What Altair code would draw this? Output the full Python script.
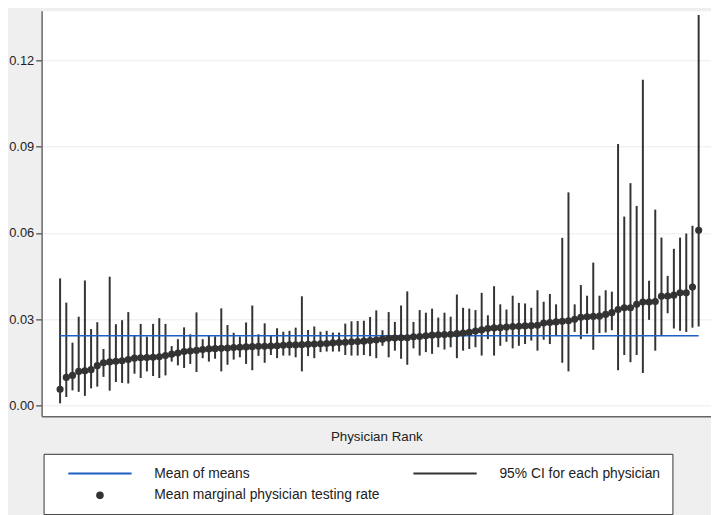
import altair as alt
import pandas as pd

# ---------------- data ----------------
ranks = list(range(1, 105))

means = [
    0.0057, 0.0098, 0.0105, 0.0119, 0.0121, 0.0125, 0.0139, 0.0149, 0.0152, 0.0154,
    0.0156, 0.0160, 0.0165, 0.0166, 0.0167, 0.0168, 0.0170, 0.0174, 0.0179, 0.0183,
    0.0188, 0.0190, 0.0192, 0.0195, 0.0197, 0.0198, 0.0199, 0.0200, 0.0202, 0.0203,
    0.0204, 0.0205, 0.0206, 0.0206, 0.0207, 0.0208, 0.0210, 0.0211, 0.0211, 0.0212,
    0.0213, 0.0214, 0.0215, 0.0216, 0.0218, 0.0219, 0.0220, 0.0222, 0.0223, 0.0224,
    0.0226, 0.0228, 0.0231, 0.0234, 0.0235, 0.0236, 0.0236, 0.0239, 0.0240, 0.0243,
    0.0245, 0.0246, 0.0247, 0.0248, 0.0250, 0.0252, 0.0255, 0.0259, 0.0263, 0.0268,
    0.0270, 0.0271, 0.0273, 0.0275, 0.0276, 0.0277, 0.0278, 0.0279, 0.0287, 0.0289,
    0.0291, 0.0293, 0.0295, 0.0300, 0.0307, 0.0309, 0.0310, 0.0311, 0.0317, 0.0323,
    0.0334, 0.0340, 0.0340, 0.0352, 0.0360, 0.0360, 0.0362, 0.0380, 0.0381, 0.0384,
    0.0392, 0.0392, 0.0412, 0.0609,
]

lows = [
    0.0008, 0.0030, 0.0053, 0.0048, 0.0034, 0.0060, 0.0066, 0.0100, 0.0052, 0.0082,
    0.0079, 0.0077, 0.0111, 0.0096, 0.0119, 0.0103, 0.0096, 0.0105, 0.0153, 0.0140,
    0.0131, 0.0145, 0.0117, 0.0165, 0.0153, 0.0163, 0.0119, 0.0142, 0.0160, 0.0168,
    0.0145, 0.0123, 0.0173, 0.0149, 0.0176, 0.0165, 0.0174, 0.0174, 0.0168, 0.0119,
    0.0172, 0.0165, 0.0186, 0.0188, 0.0188, 0.0188, 0.0176, 0.0174, 0.0174, 0.0176,
    0.0172, 0.0165, 0.0208, 0.0168, 0.0191, 0.0163, 0.0142, 0.0199, 0.0174, 0.0186,
    0.0180, 0.0203, 0.0195, 0.0203, 0.0165, 0.0191, 0.0197, 0.0203, 0.0174, 0.0231,
    0.0174, 0.0208, 0.0222, 0.0199, 0.0208, 0.0214, 0.0226, 0.0191, 0.0229, 0.0214,
    0.0243, 0.0149, 0.0119, 0.0256, 0.0231, 0.0250, 0.0194, 0.0252, 0.0254, 0.0262,
    0.0123, 0.0176, 0.0151, 0.0176, 0.0113, 0.0298, 0.0191, 0.0245, 0.0321, 0.0268,
    0.0260, 0.0256, 0.0271, 0.0275,
]

highs = [
    0.0442, 0.0358, 0.0219, 0.0309, 0.0435, 0.0266, 0.0290, 0.0197, 0.0448, 0.0283,
    0.0297, 0.0325, 0.0243, 0.0284, 0.0240, 0.0284, 0.0304, 0.0284, 0.0207, 0.0231,
    0.0272, 0.0248, 0.0324, 0.0231, 0.0244, 0.0241, 0.0338, 0.0280, 0.0253, 0.0240,
    0.0289, 0.0348, 0.0248, 0.0286, 0.0243, 0.0269, 0.0257, 0.0260, 0.0271, 0.0380,
    0.0263, 0.0275, 0.0257, 0.0260, 0.0254, 0.0254, 0.0285, 0.0293, 0.0294, 0.0295,
    0.0308, 0.0331, 0.0262, 0.0325, 0.0291, 0.0348, 0.0397, 0.0291, 0.0332, 0.0323,
    0.0337, 0.0306, 0.0323, 0.0309, 0.0386, 0.0340, 0.0337, 0.0332, 0.0392, 0.0314,
    0.0415, 0.0352, 0.0334, 0.0382, 0.0357, 0.0355, 0.0340, 0.0401, 0.0361, 0.0388,
    0.0352, 0.0583, 0.0741, 0.0352, 0.0419, 0.0382, 0.0497, 0.0382, 0.0401, 0.0396,
    0.0909, 0.0657, 0.0773, 0.0694, 0.1132, 0.0434, 0.0681, 0.0584, 0.0451, 0.0545,
    0.0584, 0.0598, 0.0625, 0.1357,
]

mean_of_means = 0.0243

y_ticks = [0.0, 0.03, 0.06, 0.09, 0.12]
series_names = [
    "Mean of means",
    "95% CI for each physician",
    "Mean marginal physician testing rate",
]

# ---------------- styling ----------------
BLUE = "#1d5fc4"
DARK = "#333333"
FONT = "Liberation Sans"
SYM = 196                      # symbol area: 7 px per path unit
LINE_PATH = "M-4.57,0L4.57,0"  # 64 px wide legend key
R = 0.41
CIRCLE_PATH = f"M{-R},0A{R},{R},0,1,1,{R},0A{R},{R},0,1,1,{-R},0Z"

df = pd.DataFrame({"rank": ranks, "mean": means, "lo": lows, "hi": highs})
df["series"] = series_names[2]
mean_df = pd.DataFrame({"rank": [ranks[0]], "rank_end": [ranks[-1]], "lo": [mean_of_means]})

xscale = alt.Scale(domain=[-1.98, 105.99], nice=False, zero=False)
yscale = alt.Scale(domain=[-0.00368, 0.13717], nice=False, zero=False)

x_axis = alt.Axis(
    title="Physician Rank", labels=False, ticks=False, grid=False,
    domainColor="#666666", domainWidth=1.5, titlePadding=14,
    titleFont=FONT, titleFontSize=13.5, titleFontWeight="normal", titleColor="#222222",
)
y_axis = alt.Axis(
    title=None, values=y_ticks, format=".2f", grid=True, gridColor="#ebebeb", gridWidth=1,
    labelFont=FONT, labelFontSize=13, labelColor="#222222", labelPadding=2,
    tickSize=6, tickColor="#666666", tickWidth=1.5,
    domainColor="#666666", domainWidth=1.5,
)

pad_label = "\u00a0" * 10
legend = alt.Legend(
    title=None, orient="none", legendX=2, legendY=448, columns=2, direction="horizontal",
    symbolSize=SYM, symbolStrokeWidth=2, symbolOffset=37, symbolOpacity=1,
    labelOffset=47, columnPadding=20, rowPadding=7, padding=12,
    strokeColor="#333333", fillColor="white",
    labelFont=FONT, labelFontSize=14, labelColor="#222222", labelLimit=1000,
    labelExpr=f"datum.label == '95% CI for each physician' ? datum.label + '{pad_label}' : datum.label",
)

color_scale = alt.Scale(domain=series_names, range=[BLUE, DARK, DARK])
shape_scale = alt.Scale(domain=series_names, range=[LINE_PATH, LINE_PATH, CIRCLE_PATH])

ci = alt.Chart(df).mark_rule(color=DARK, strokeWidth=2).encode(
    x=alt.X("rank:Q", scale=xscale, axis=x_axis),
    y=alt.Y("lo:Q", scale=yscale, axis=y_axis),
    y2="hi:Q",
)

mline = alt.Chart(mean_df).mark_rule(color=BLUE, strokeWidth=1.6).encode(
    x=alt.X("rank:Q", scale=xscale, axis=x_axis),
    x2="rank_end:Q",
    y=alt.Y("lo:Q", scale=yscale, axis=y_axis),
)

pts = alt.Chart(df).mark_point(filled=True, size=SYM, strokeWidth=1.5, opacity=1).encode(
    x=alt.X("rank:Q", scale=xscale, axis=x_axis),
    y=alt.Y("mean:Q", scale=yscale, axis=y_axis),
    fill=alt.Fill("series:N", scale=color_scale, legend=legend),
    stroke=alt.Stroke("series:N", scale=color_scale, legend=legend),
    shape=alt.Shape("series:N", scale=shape_scale, legend=legend),
)

chart = (
    alt.layer(ci, mline, pts)
    .properties(
        width=677, height=410, background="#efefef",
        padding={"left": 34, "top": 0, "right": 0, "bottom": 97},
        autosize=alt.AutoSizeParams(type="none"),
    )
    .configure(font=FONT)
    .configure_view(fill="white", stroke="transparent")
)

chart.save("out.html", embed_options={"renderer": "svg", "actions": False})
